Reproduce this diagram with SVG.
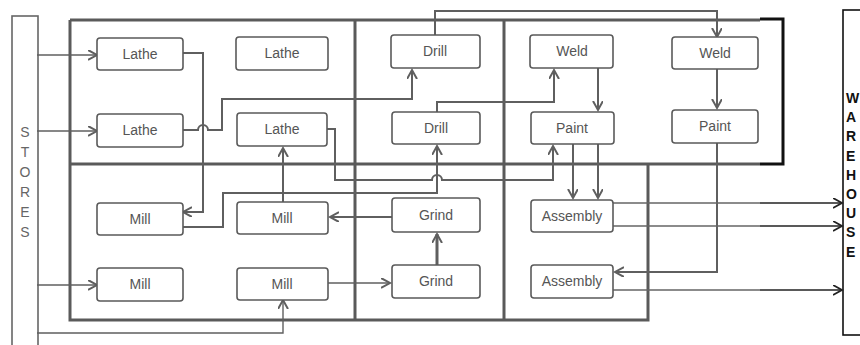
<svg xmlns="http://www.w3.org/2000/svg" width="860" height="345" viewBox="0 0 860 345">
<style>
.bg{fill:#ffffff}
.node rect{fill:#ffffff;stroke:#5a5a5a;stroke-width:1.6}
.node text{font-family:"Liberation Sans",Arial,sans-serif;font-size:14px;fill:#555;text-anchor:middle;dominant-baseline:central}
.frame{fill:none;stroke:#5a5a5a;stroke-width:3}
.frameB{fill:none;stroke:#111;stroke-width:3}
.c{fill:none;stroke:#5f5f5f;stroke-width:2;marker-end:url(#ah)}
.ct{fill:none;stroke:#5f5f5f;stroke-width:1.4;marker-end:url(#ah)}
.cg{fill:none;stroke:#666;stroke-width:1.4}
.cw{fill:none;stroke:#222;stroke-width:1.5;marker-end:url(#ahk)}
.st{font-family:"Liberation Sans",Arial,sans-serif;font-size:14px;fill:#666;text-anchor:middle;dominant-baseline:central}
.wh{font-family:"Liberation Sans",Arial,sans-serif;font-size:14px;font-weight:bold;fill:#111;dominant-baseline:central}
</style>
<defs>
<marker id="ah" markerUnits="userSpaceOnUse" markerWidth="12" markerHeight="12" refX="9" refY="5" orient="auto"><path d="M0,0 L9,5 L0,10" fill="none" stroke="#5f5f5f" stroke-width="2"/></marker>
<marker id="ahk" markerUnits="userSpaceOnUse" markerWidth="12" markerHeight="12" refX="9" refY="5" orient="auto"><path d="M0,0 L9,5 L0,10" fill="none" stroke="#222" stroke-width="1.8"/></marker>
</defs>
<rect class="bg" x="0" y="0" width="860" height="345"/>

<g id="cells">
<path class="frame" d="M70,20 H760 M70,20 V320 H648 V164 M70,164 H760 M355,20 V320 M504,20 V320"/>
<path class="frameB" d="M760,19 H783 V164 H760"/>
</g>

<g id="stores">
<rect x="12" y="16" width="26" height="340" fill="#fff" stroke="#666" stroke-width="1.6"/>
<text class="st" x="25" y="132">S</text>
<text class="st" x="25" y="152">T</text>
<text class="st" x="25" y="172">O</text>
<text class="st" x="25" y="192">R</text>
<text class="st" x="25" y="212">E</text>
<text class="st" x="25" y="232">S</text>
</g>

<g id="warehouse">
<rect x="843" y="10" width="30" height="325" fill="#fff" stroke="#111" stroke-width="1.6"/>
<text class="wh" x="846" y="98">W</text>
<text class="wh" x="846" y="117">A</text>
<text class="wh" x="846" y="136">R</text>
<text class="wh" x="846" y="156">E</text>
<text class="wh" x="846" y="175">H</text>
<text class="wh" x="846" y="194">O</text>
<text class="wh" x="846" y="213">U</text>
<text class="wh" x="846" y="232">S</text>
<text class="wh" x="846" y="252">E</text>
</g>

<g id="connectors">
<path class="ct" d="M37,55 H97"/>
<path class="ct" d="M37,131 H97"/>
<path class="ct" d="M37,285 H97"/>
<path class="ct" d="M37,333 H283 V300"/>
<path class="c" d="M183,53 H203 V212 H183"/>
<path class="c" d="M183,130 H198 A5,5 0 0 1 208,130 H222 V99 H412 V70"/>
<path class="c" d="M327,129 H335 V180 H432 A5,5 0 0 1 442,180 H553 V146"/>
<path class="c" d="M183,227 H223 V193 H437 V146"/>
<path class="c" d="M283,202 V148"/>
<path class="c" d="M392,217 H330"/>
<path class="ct" d="M328,283 H390"/>
<path class="c" d="M437,265 V234" style="stroke-width:3"/>
<path class="c" d="M435,35 V11 H717 V37"/>
<path class="c" d="M437,112 V102 H554 V70"/>
<path class="c" d="M598,68 V110"/>
<path class="c" d="M717,69 V108"/>
<path class="c" d="M573,144 V198"/>
<path class="c" d="M598,144 V198"/>
<path class="c" d="M717,143 V272 H615"/>
<path class="cg" d="M613,203 H760 M613,226 H760 M613,290 H760"/>
<path class="cw" d="M760,203 H842"/>
<path class="cw" d="M760,226 H842"/>
<path class="cw" d="M760,290 H842"/>
</g>

<g id="lathe1" class="node"><rect x="97" y="38" width="86" height="32" rx="3"/><text x="140" y="54">Lathe</text></g>
<g id="lathe2" class="node"><rect x="97" y="114" width="86" height="33" rx="3"/><text x="140" y="130">Lathe</text></g>
<g id="lathe3" class="node"><rect x="236" y="37" width="92" height="33" rx="3"/><text x="282" y="53">Lathe</text></g>
<g id="lathe4" class="node"><rect x="237" y="113" width="90" height="33" rx="3"/><text x="282" y="129">Lathe</text></g>
<g id="drill1" class="node"><rect x="391" y="35" width="89" height="33" rx="3"/><text x="435" y="51">Drill</text></g>
<g id="drill2" class="node"><rect x="392" y="112" width="88" height="32" rx="3"/><text x="436" y="128">Drill</text></g>
<g id="weld1" class="node"><rect x="530" y="35" width="83" height="33" rx="3"/><text x="572" y="51">Weld</text></g>
<g id="paint1" class="node"><rect x="531" y="112" width="83" height="32" rx="3"/><text x="572" y="128">Paint</text></g>
<g id="weld2" class="node"><rect x="672" y="37" width="86" height="32" rx="3"/><text x="715" y="53">Weld</text></g>
<g id="paint2" class="node"><rect x="672" y="110" width="86" height="33" rx="3"/><text x="715" y="126">Paint</text></g>
<g id="mill1" class="node"><rect x="97" y="203" width="86" height="32" rx="3"/><text x="140" y="219">Mill</text></g>
<g id="mill2" class="node"><rect x="237" y="202" width="91" height="32" rx="3"/><text x="282" y="218">Mill</text></g>
<g id="grind1" class="node"><rect x="392" y="198" width="88" height="34" rx="3"/><text x="436" y="215">Grind</text></g>
<g id="assembly1" class="node"><rect x="531" y="200" width="82" height="32" rx="3"/><text x="572" y="216">Assembly</text></g>
<g id="mill4" class="node"><rect x="97" y="268" width="86" height="33" rx="3"/><text x="140" y="284">Mill</text></g>
<g id="mill3" class="node"><rect x="237" y="268" width="91" height="32" rx="3"/><text x="282" y="284">Mill</text></g>
<g id="grind2" class="node"><rect x="392" y="265" width="88" height="33" rx="3"/><text x="436" y="281">Grind</text></g>
<g id="assembly2" class="node"><rect x="531" y="265" width="82" height="33" rx="3"/><text x="572" y="281">Assembly</text></g>
</svg>
